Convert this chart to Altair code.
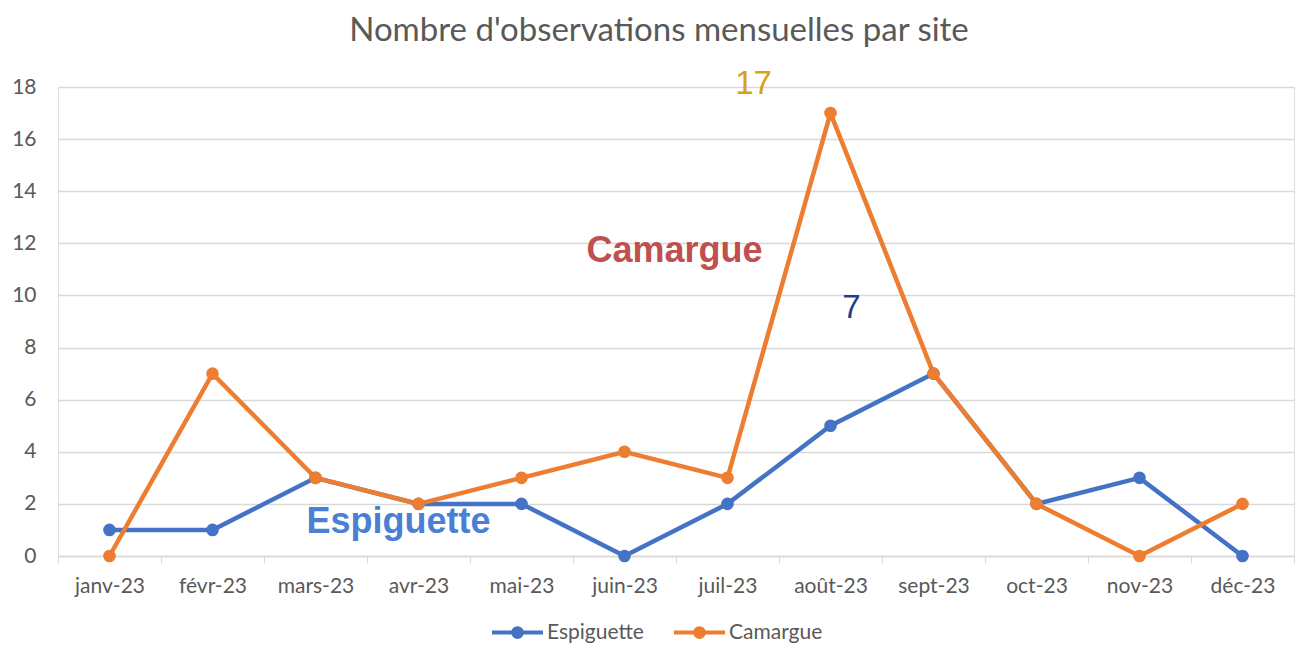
import altair as alt
import pandas as pd

months = ["janv-23", "févr-23", "mars-23", "avr-23", "mai-23", "juin-23",
          "juil-23", "août-23", "sept-23", "oct-23", "nov-23", "déc-23"]
espiguette = [1, 1, 3, 2, 2, 0, 2, 5, 7, 2, 3, 0]
camargue = [0, 7, 3, 2, 3, 4, 3, 17, 7, 2, 0, 2]
series = ["Espiguette", "Camargue"]
colors = ["#4472C4", "#ED7D31"]

rows = []
for m, e, c in zip(months, espiguette, camargue):
    rows.append({"mois": m, "site": "Espiguette", "n": e})
    rows.append({"mois": m, "site": "Camargue", "n": c})
df = pd.DataFrame(rows)

# annotations: text, anchor month, anchor value, offsets, colour, size, weight
ann_text = ["17", "Camargue", "7", "Espiguette"]
ann_month = ["août-23", "juil-23", "août-23", "avr-23"]
ann_value = [18.1, 11.7, 9.5, 1.3]
ann_dx = [-77, -53, 21, -20]
ann_color = ["#D9A011", "#C0504D", "#1F3F8C", "#4A7FD6"]
ann_size = [33, 36, 33, 36]
ann_weight = ["normal", "bold", "normal", "bold"]

FONT = "Lato"
GREY = "#595959"

x_scale = alt.Scale(type="band", domain=months, paddingInner=0, paddingOuter=0)
x_enc = alt.X("mois:N", sort=months, scale=x_scale,
              axis=alt.Axis(title=None, tickBand="extent", labelAngle=0, labelFont=FONT,
                            labelFontSize=21, labelColor=GREY, labelPadding=12,
                            tickColor="#D9D9D9", tickSize=7, domainColor="#D9D9D9",
                            domainWidth=1.5, grid=False))
y_scale = alt.Scale(domain=[0, 18], nice=False)
y_enc = alt.Y("n:Q", scale=y_scale,
              axis=alt.Axis(title=None, values=list(range(0, 19, 2)), ticks=False, domain=False,
                            labelFont=FONT, labelFontSize=21, labelColor=GREY, labelPadding=22,
                            gridColor="#D9D9D9", gridWidth=1.5))
color_enc = alt.Color("site:N", sort=series,
                      scale=alt.Scale(domain=series, range=colors),
                      legend=alt.Legend(title=None, orient="none", direction="horizontal",
                                        legendX=432, legendY=518,
                                        labelFont=FONT, labelFontSize=21, labelColor=GREY,
                                        symbolType="M-1,0L1,0M-0.17,0A0.17,0.17,0,1,1,0.17,0A0.17,0.17,0,1,1,-0.17,0Z",
                                        symbolSize=2600, symbolStrokeWidth=4, columnPadding=22,
                                        labelOffset=2))

lines = alt.Chart(df).mark_line(strokeWidth=4.5).encode(x=x_enc, y=y_enc, color=color_enc)
points = alt.Chart(df).mark_circle(size=160, opacity=1).encode(
    x=x_enc, y=y_enc, color=alt.Color("site:N", sort=series,
                                      scale=alt.Scale(domain=series, range=colors), legend=None))

layers = [lines, points]
for t, m, v, dx, col, sz, w in zip(ann_text, ann_month, ann_value, ann_dx, ann_color, ann_size, ann_weight):
    d = pd.DataFrame({"mois": [m], "n": [v], "t": [t]})
    layers.append(alt.Chart(d).mark_text(font="Liberation Sans", fontSize=sz, fontWeight=w,
                                         color=col, dx=dx, align="center", baseline="middle").encode(
        x=alt.X("mois:N", sort=months, scale=x_scale),
        y=alt.Y("n:Q", scale=y_scale), text="t:N"))

chart = alt.layer(*layers).properties(
    width=1236, height=469,
    title=alt.TitleParams("Nombre d'observations mensuelles par site", font=FONT, fontSize=33,
                          fontWeight="normal", color=GREY, anchor="middle", dx=-17, offset=20),
    padding={"left": 50, "top": 79, "right": 2, "bottom": 91},
    autosize=alt.AutoSizeParams(type="none"),
).configure_view(stroke=None).configure(background="white")

chart.save("out.html", embed_options={"renderer": "svg", "actions": False})
